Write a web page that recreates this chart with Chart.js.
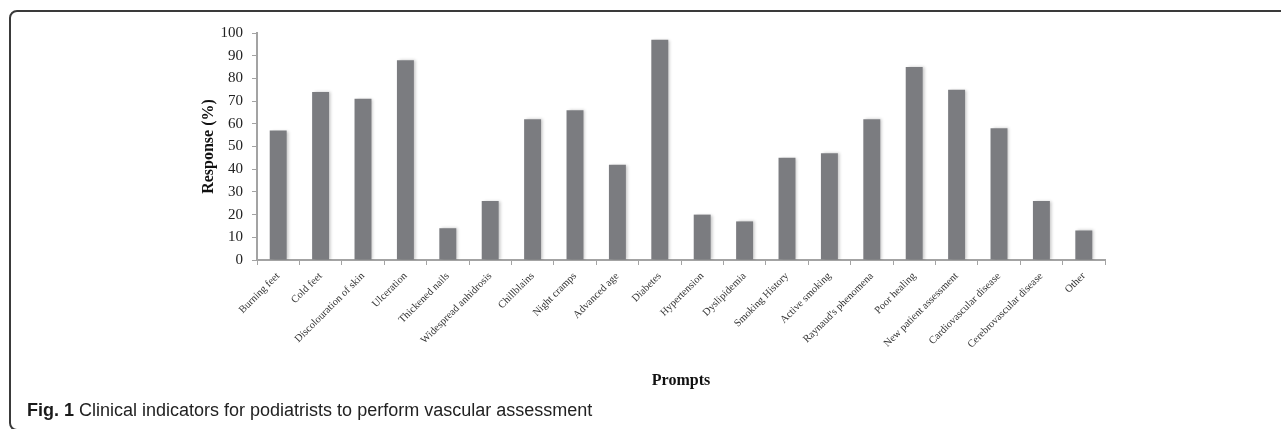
<!DOCTYPE html>
<html>
<head>
<meta charset="utf-8">
<script src="https://cdn.jsdelivr.net/npm/chart.js@4/dist/chart.umd.min.js"></script>
<style>
  html,body{margin:0;padding:0;background:#fff;}
  body{width:1281px;height:429px;position:relative;overflow:hidden;}
  #frame{position:absolute;left:9px;top:10px;width:1320px;height:421px;border:2px solid #3a3a3a;border-radius:8px;box-sizing:border-box;}
  #wrap{position:absolute;left:0;top:0;width:1281px;height:429px;}
  #cap{position:absolute;left:27px;top:400px;font:18px "Liberation Sans",Arial,sans-serif;color:#222;white-space:nowrap;}
  #cap b{color:#1a1a1a;}
</style>
</head>
<body>
<div id="frame"></div>
<div id="wrap"><canvas id="c" width="1281" height="429"></canvas></div>
<div id="cap"><b>Fig. 1</b> Clinical indicators for podiatrists to perform vascular assessment</div>
<script>
const prompts = ['Burning feet','Cold feet','Discolouration of skin','Ulceration','Thickened nails',
  'Widespread anhidrosis','Chillblains','Night cramps','Advanced age','Diabetes','Hypertension',
  'Dyslipidemia','Smoking History','Active smoking',"Raynaud's phenomena",'Poor healing',
  'New patient assessment','Cardiovascular disease','Cerebrovascular disease','Other'];
const responsePct = [57,74,71,88,14,26,62,66,42,97,20,17,45,47,62,85,75,58,26,13];
const yTicks = [0,10,20,30,40,50,60,70,80,90,100];

const AXIS = '#a3a3a3';
const SERIF = '"Liberation Serif","DejaVu Serif",serif';

// soft shadow on the bars like the original export
const barShadow = {
  id:'barShadow',
  beforeDatasetsDraw(ch){const x=ch.ctx;x.save();x.shadowColor='rgba(0,0,0,0.22)';x.shadowBlur=3;x.shadowOffsetX=2;x.shadowOffsetY=0;},
  afterDatasetsDraw(ch){ch.ctx.restore();}
};

new Chart(document.getElementById('c'),{
  type:'bar',
  data:{labels:prompts,datasets:[{data:responsePct,backgroundColor:'#7b7c80',borderWidth:0,
    barPercentage:0.4,categoryPercentage:1}]},
  options:{
    responsive:false,animation:false,
    layout:{padding:{left:199,top:33,right:176,bottom:39}},
    plugins:{legend:{display:false},tooltip:{enabled:false}},
    scales:{
      x:{
        grid:{offset:true,drawOnChartArea:false,drawTicks:true,tickLength:5,color:AXIS,lineWidth:1},
        border:{color:AXIS,width:2},
        ticks:{color:'#333',font:{family:SERIF,size:10.5},minRotation:45,maxRotation:45,autoSkip:false,padding:5},
        title:{display:true,text:'Prompts',color:'#111',font:{family:SERIF,size:16,weight:'bold'},padding:0},
        afterFit(s){s.height=130;}
      },
      y:{
        min:0,max:100,
        afterBuildTicks(s){s.ticks=yTicks.map(v=>({value:v}));},
        grid:{drawOnChartArea:false,drawTicks:true,tickLength:5,color:AXIS},
        border:{color:AXIS,width:2},
        ticks:{color:'#222',font:{family:SERIF,size:15},padding:9},
        title:{display:true,text:'Response (%)',color:'#111',font:{family:SERIF,size:16,weight:'bold'},padding:0},
        afterFit(s){s.width=58;}
      }
    }
  },
  plugins:[barShadow]
});
</script>
</body>
</html>
